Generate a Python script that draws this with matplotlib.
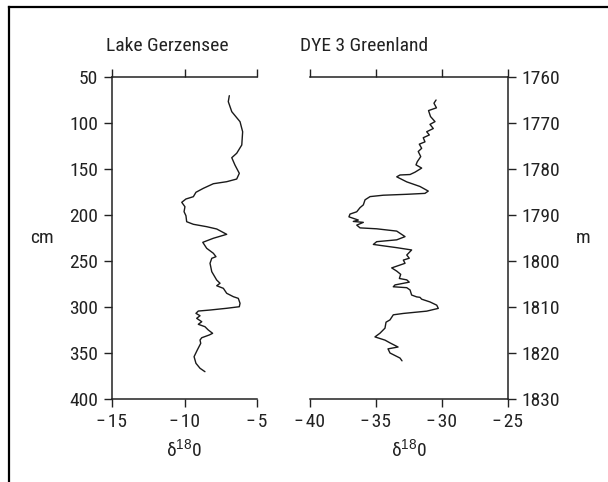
import matplotlib
matplotlib.use("Agg")
import matplotlib.pyplot as plt
from matplotlib.lines import Line2D
from matplotlib.ticker import FuncFormatter

FONT = ["Liberation Sans Narrow", "Roboto Condensed", "Open Sans Condensed",
        "Liberation Sans", "DejaVu Sans"]
plt.rcParams["font.family"] = FONT
plt.rcParams["mathtext.fontset"] = "custom"
plt.rcParams["mathtext.rm"] = "Liberation Sans"
plt.rcParams["mathtext.it"] = "Liberation Sans"

# ---- data ----
titles = ["Lake Gerzensee", "DYE 3 Greenland"]
gerz_d18o = [-6.91, -6.98, -6.74, -6.17, -5.99, -6.05, -6.40, -6.74, -6.52, -6.22,
             -6.40, -7.09, -8.01, -8.70, -9.21, -9.39, -9.90, -10.19, -9.97, -10.03,
             -9.90, -9.85, -9.39, -8.47, -7.78, -7.09, -8.01, -8.74, -8.47, -8.01,
             -7.83, -8.12, -8.24, -8.12, -7.78, -7.55, -7.78, -7.32, -7.09, -6.63,
             -6.29, -6.17, -6.22, -7.09, -8.24, -9.05, -9.21, -8.93, -9.16, -8.81,
             -9.05, -8.59, -8.36, -8.06, -8.29, -8.81, -8.93, -8.88, -9.12, -9.34,
             -9.21, -8.93, -8.59]
gerz_depth_cm = [70.3, 76.8, 87.7, 98.6, 109.5, 123.9, 132.9, 137.7, 145.7, 154.7,
                 160.9, 163.8, 166.0, 171.0, 175.3, 180.1, 182.6, 186.2, 191.0, 196.4,
                 200.8, 207.3, 210.1, 212.7, 215.2, 221.0, 225.3, 229.7, 236.2, 241.6,
                 245.3, 247.1, 252.5, 261.6, 270.7, 274.2, 276.9, 279.7, 285.1, 288.8,
                 290.6, 296.0, 299.7, 301.4, 303.3, 304.4, 306.9, 309.5, 312.3, 316.0,
                 318.8, 321.4, 325.0, 328.6, 330.4, 333.4, 335.9, 339.5, 346.8, 354.0,
                 361.2, 366.6, 370.3]

dye3_d18o = [-30.45, -30.61, -30.42, -31.02, -30.87, -30.53, -30.91, -30.66, -31.16, -30.96,
             -31.42, -31.29, -31.72, -31.54, -31.80, -31.61, -31.87, -31.97, -31.54, -32.05,
             -32.42, -33.18, -33.43, -32.67, -31.67, -31.04, -31.29, -32.67, -34.45, -35.45,
             -35.83, -35.96, -36.21, -36.46, -36.97, -37.05, -36.34, -36.72, -35.96, -36.46,
             -36.21, -34.95, -33.43, -32.80, -33.43, -34.95, -35.20, -34.45, -33.43, -32.30,
             -32.67, -32.48, -32.93, -32.80, -33.81, -33.43, -33.13, -33.23, -32.67, -32.48,
             -33.56, -33.69, -32.67, -32.42, -32.30, -31.92, -31.67, -31.54, -30.91, -30.40,
             -30.28, -31.16, -32.93, -33.69, -33.94, -34.24, -34.32, -34.70, -35.08, -34.32,
             -33.94, -33.33, -34.09, -33.94, -33.18, -33.03]
dye3_depth_m = [1765.0, 1765.7, 1766.7, 1767.3, 1768.6, 1769.7, 1770.3, 1771.2, 1771.9, 1772.6,
                1773.2, 1774.1, 1774.6, 1775.5, 1776.2, 1777.3, 1778.4, 1779.1, 1779.8, 1780.7,
                1781.2, 1781.3, 1781.7, 1782.8, 1783.8, 1784.8, 1785.3, 1785.5, 1785.7, 1786.0,
                1786.7, 1787.8, 1788.4, 1789.3, 1789.8, 1790.4, 1791.1, 1791.4, 1791.6, 1792.2,
                1792.8, 1793.0, 1793.5, 1794.7, 1795.4, 1795.8, 1796.4, 1796.7, 1797.1, 1797.6,
                1798.7, 1799.4, 1799.8, 1800.5, 1801.5, 1802.2, 1802.9, 1803.8, 1804.1, 1804.6,
                1805.2, 1805.6, 1805.8, 1806.3, 1807.4, 1807.8, 1807.9, 1808.3, 1808.9, 1809.6,
                1810.3, 1810.9, 1811.4, 1811.7, 1812.8, 1813.3, 1814.6, 1815.7, 1816.5, 1817.2,
                1817.8, 1818.7, 1819.1, 1820.0, 1821.1, 1821.7]

gerz_xticks = [-15, -10, -5]
gerz_yticks = [50, 100, 150, 200, 250, 300, 350, 400]
dye3_xticks = [-40, -35, -30, -25]
dye3_yticks = [1760, 1770, 1780, 1790, 1800, 1810, 1820, 1830]

# ---- figure ----
W, H = 608, 482
fig = plt.figure(figsize=(W / 100, H / 100), dpi=100)
fig.patch.set_facecolor("white")

def px_rect(x0, x1, y0, y1):
    return [x0 / W, 1 - y1 / H, (x1 - x0) / W, (y1 - y0) / H]

ax1 = fig.add_axes(px_rect(112, 257, 77, 399))
ax2 = fig.add_axes(px_rect(310, 508, 77, 399))

FS = 14
LW_SP = 1.1
INK = "#222222"

def neg_fmt(v, pos):
    v = int(round(v))
    return ("\u2212\u200a%d" % abs(v)) if v < 0 else "%d" % v

for ax in (ax1, ax2):
    ax.set_facecolor("none")
    ax.tick_params(which="both", direction="out", length=6, width=1.0,
                   colors=INK, labelsize=FS)
    ax.tick_params(axis="x", pad=4)
    ax.tick_params(axis="y", pad=4)
    for s in ax.spines.values():
        s.set_linewidth(LW_SP)
        s.set_color(INK)

# Left panel
ax1.plot(gerz_d18o, gerz_depth_cm, color="#1a1a1a", lw=1.0,
         solid_joinstyle="round", solid_capstyle="round")
ax1.set_xlim(-15, -5)
ax1.set_ylim(400, 50)
ax1.set_xticks(gerz_xticks)
ax1.set_yticks(gerz_yticks)
ax1.xaxis.set_major_formatter(FuncFormatter(neg_fmt))
ax1.spines["right"].set_visible(False)
ax1.xaxis.set_ticks_position("both")
ax1.tick_params(axis="x", top=True, labeltop=False, bottom=True, labelbottom=True)
ax1.set_ylabel("cm", fontsize=FS, rotation=0, labelpad=20, va="center", color=INK)
ax1.set_xlabel(r"δ$^{18}$0", fontsize=FS, labelpad=5, color=INK)

# Right panel
ax2.plot(dye3_d18o, dye3_depth_m, color="#1a1a1a", lw=1.0,
         solid_joinstyle="round", solid_capstyle="round")
ax2.set_xlim(-40, -25)
ax2.set_ylim(1830, 1760)
ax2.set_xticks(dye3_xticks)
ax2.set_yticks(dye3_yticks)
ax2.xaxis.set_major_formatter(FuncFormatter(neg_fmt))
ax2.spines["left"].set_visible(False)
ax2.xaxis.set_ticks_position("both")
ax2.tick_params(axis="x", top=True, labeltop=False, bottom=True, labelbottom=True)
ax2.yaxis.set_ticks_position("right")
ax2.yaxis.set_label_position("right")
ax2.tick_params(axis="y", left=False, labelleft=False, right=True, labelright=True)
ax2.set_ylabel("m", fontsize=FS, rotation=0, labelpad=16, va="center", color=INK)
ax2.set_xlabel(r"δ$^{18}$0", fontsize=FS, labelpad=5, color=INK)

for t, xp in ((titles[0], 106), (titles[1], 300)):
    fig.text(xp / W, 1 - 46 / H, t, fontsize=FS, ha="left", va="center", color=INK)

# outer frame (left and top edges)
fig.add_artist(Line2D([8.5 / W, 8.5 / W], [0, 1 - 7 / H], transform=fig.transFigure,
                      color="black", lw=1.6))
fig.add_artist(Line2D([8.5 / W, 1], [1 - 7 / H, 1 - 7 / H], transform=fig.transFigure,
                      color="black", lw=1.6))

fig.savefig("out.png", dpi=100)
